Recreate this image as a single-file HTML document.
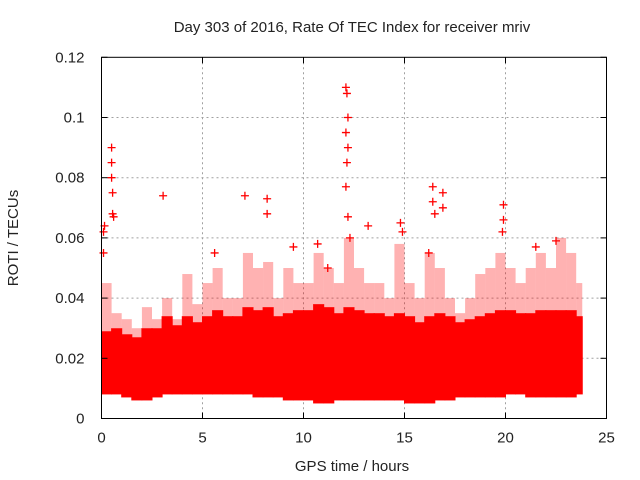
<!DOCTYPE html>
<html><head><meta charset="utf-8"><style>
html,body{margin:0;padding:0;background:#fff}
svg{display:block;font-family:"Liberation Sans",sans-serif}
</style></head><body>
<svg id="chart" width="640" height="480">
<text x="352" y="32" font-size="15" text-anchor="middle" fill="#222">Day 303 of 2016, Rate Of TEC Index for receiver mriv</text>
<text x="352" y="471" font-size="15" text-anchor="middle" fill="#222">GPS time / hours</text>
<text x="18" y="238" font-size="15" text-anchor="middle" fill="#222" transform="rotate(-90 18 238)">ROTI / TECUs</text>
<g id="grid"></g><g id="marks"></g><g id="axes"></g>
</svg>
<script>
const xTicks=[0,5,10,15,20,25];
const yTicks=[0,0.02,0.04,0.06,0.08,0.1,0.12];
const yTickLabels=["0","0.02","0.04","0.06","0.08","0.1","0.12"];
const binStart=[0,0.5,1,1.5,2,2.5,3,3.5,4,4.5,5,5.5,6,6.5,7,7.5,8,8.5,9,9.5,10,10.5,11,11.5,12,12.5,13,13.5,14,14.5,15,15.5,16,16.5,17,17.5,18,18.5,19,19.5,20,20.5,21,21.5,22,22.5,23,23.5];
const bandLow=[0.008,0.008,0.007,0.006,0.006,0.007,0.008,0.008,0.008,0.008,0.008,0.008,0.008,0.008,0.008,0.007,0.007,0.007,0.006,0.006,0.006,0.005,0.005,0.006,0.006,0.006,0.006,0.006,0.006,0.006,0.005,0.005,0.005,0.006,0.006,0.007,0.007,0.007,0.007,0.007,0.008,0.008,0.007,0.007,0.007,0.007,0.007,0.008];
const bandHigh=[0.029,0.03,0.028,0.027,0.03,0.03,0.034,0.031,0.034,0.032,0.034,0.036,0.034,0.034,0.037,0.036,0.037,0.034,0.035,0.036,0.036,0.038,0.037,0.035,0.037,0.036,0.035,0.035,0.034,0.035,0.034,0.032,0.034,0.035,0.034,0.032,0.033,0.034,0.035,0.036,0.036,0.035,0.035,0.036,0.036,0.036,0.036,0.034];
const peak=[0.045,0.035,0.033,0.03,0.037,0.033,0.04,0.033,0.048,0.038,0.045,0.05,0.04,0.04,0.055,0.05,0.052,0.04,0.05,0.045,0.045,0.055,0.05,0.045,0.06,0.05,0.045,0.045,0.04,0.058,0.045,0.04,0.055,0.05,0.04,0.035,0.04,0.048,0.05,0.055,0.05,0.045,0.05,0.055,0.05,0.06,0.055,0.045];
const binEnd=23.8;
const spikeX=[0.1,0.1,0.15,0.5,0.5,0.55,0.6,0.55,0.5,3.05,7.1,8.2,8.2,12.1,12.15,12.2,12.1,12.2,12.1,12.2,12.15,12.3,13.2,14.8,14.9,16.4,16.4,16.5,16.9,16.9,19.9,19.9,19.85,21.5,22.5,9.5,10.7,16.2,11.2,5.6];
const spikeY=[0.055,0.062,0.064,0.09,0.085,0.068,0.067,0.075,0.08,0.074,0.074,0.073,0.068,0.11,0.108,0.1,0.095,0.09,0.077,0.067,0.085,0.06,0.064,0.065,0.062,0.077,0.072,0.068,0.075,0.07,0.071,0.066,0.062,0.057,0.059,0.057,0.058,0.055,0.05,0.055];
const L=101.5,R=606.5,T=57.3,B=418.5;
const X=v=>L+(v/25)*(R-L), Y=v=>B-(v/0.12)*(B-T);
const NS="http://www.w3.org/2000/svg";
function mk(tag,attrs,parent){const e=document.createElementNS(NS,tag);for(const k in attrs)e.setAttribute(k,attrs[k]);parent.appendChild(e);return e;}
const grid=document.getElementById('grid'),marks=document.getElementById('marks'),axes=document.getElementById('axes');
xTicks.forEach((t,i)=>{
 if(i>0&&i<xTicks.length-1){const g=mk('line',{x1:X(t),x2:X(t),y1:T,y2:B,stroke:'#a0a0a0','stroke-dasharray':'2,3'},grid);
 
 }
 const tl=mk('text',{x:X(t),y:B+24,'font-size':15,'text-anchor':'middle',fill:'#222'},axes);tl.textContent=t;
 
 
 mk('line',{x1:X(t),x2:X(t),y1:B,y2:B-6,stroke:'#000'},axes);
 mk('line',{x1:X(t),x2:X(t),y1:T,y2:T+6,stroke:'#000'},axes);
});
yTicks.forEach((t,i)=>{
 if(i>0&&i<yTicks.length-1){const g=mk('line',{x1:L,x2:R,y1:Y(t),y2:Y(t),stroke:'#a0a0a0','stroke-dasharray':'2,3'},grid);
 
 }
 const tl=mk('text',{x:L-17,y:Y(t)+5,'font-size':15,'text-anchor':'end',fill:'#222'},axes);tl.textContent=yTickLabels[i];
 
 
 mk('line',{x1:L,x2:L+6,y1:Y(t),y2:Y(t),stroke:'#000'},axes);
 mk('line',{x1:R,x2:R-6,y1:Y(t),y2:Y(t),stroke:'#000'},axes);
});
binStart.forEach((s,i)=>{
 const e=(i<binStart.length-1)?binStart[i+1]:binEnd;
 const sc=mk('rect',{x:X(s),width:X(e)-X(s),y:Y(peak[i]),height:Y(bandHigh[i])-Y(peak[i]),fill:'#ff0000',opacity:0.3},marks);
 
 
 const r=mk('rect',{x:X(s)-0.5,width:X(e)-X(s)+1,y:Y(bandHigh[i]),height:Y(bandLow[i])-Y(bandHigh[i]),fill:'#ff0000'},marks);
 
 
});
spikeX.forEach((x,i)=>{
 const px=X(x),py=Y(spikeY[i]);
 const p=mk('path',{d:`M${px-4},${py}h8M${px},${py-4}v8`,stroke:'#ff0000','stroke-width':1.3},marks);
 
 
});
const f=mk('rect',{x:L,y:T,width:R-L,height:B-T,fill:'none',stroke:'#000'},axes);


</script>
</body></html>
